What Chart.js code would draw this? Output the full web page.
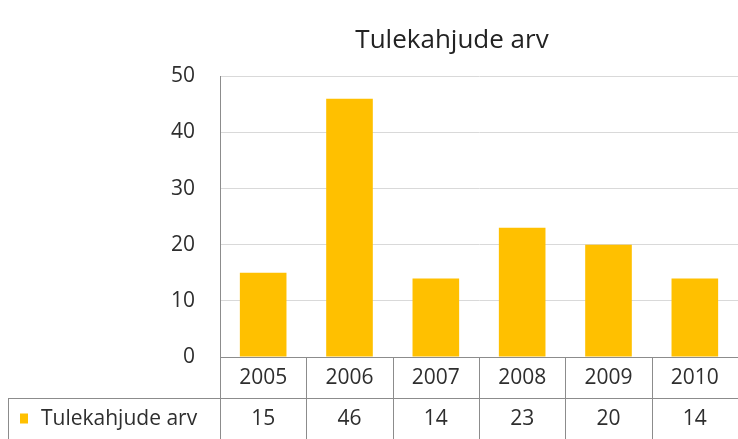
<!DOCTYPE html>
<html>
<head>
<meta charset="utf-8">
<script src="https://cdn.jsdelivr.net/npm/chart.js@4"></script>
<style>
    html, body { margin: 0; padding: 0; background: #ffffff; }
    #wrap { width: 738px; height: 439px; }
</style>
</head>
<body>
<div id="wrap"><canvas id="fireChart" width="738" height="439"></canvas></div>
<script>
// Chart data
const years = ['2005', '2006', '2007', '2008', '2009', '2010'];
const fireCounts = [15, 46, 14, 23, 20, 14];
const seriesName = 'Tulekahjude arv';
const chartTitle = 'Tulekahjude arv';
const yMin = 0;
const yMax = 50;
const yStep = 10;

const barColor = '#ffc000';
const lineColor = '#8c8c8c';
const textColor = '#2e2e2e';
const fontFamily = "'Open Sans', 'DejaVu Sans', sans-serif";

// Data table under the plot (Excel style)
const dataTablePlugin = {
    id: 'dataTable',
    afterDraw(chart) {
        const ctx = chart.ctx;
        const area = chart.chartArea;
        const xScale = chart.scales.x;
        const bottom = chart.height;
        const rowTop = area.bottom;
        const rowMid = area.bottom + 41;
        const step = (area.right - area.left) / years.length;

        ctx.save();
        ctx.strokeStyle = lineColor;
        ctx.lineWidth = 1;
        ctx.beginPath();
        // horizontal lines
        ctx.moveTo(area.left, Math.round(rowTop) + 0.5);
        ctx.lineTo(area.right, Math.round(rowTop) + 0.5);
        ctx.moveTo(8, Math.round(rowMid) + 0.5);
        ctx.lineTo(area.right, Math.round(rowMid) + 0.5);
        // column lines (last one falls outside the picture)
        for (let i = 0; i < years.length; i++) {
            const x = Math.round(area.left + i * step) + 0.5;
            ctx.moveTo(x, rowTop);
            ctx.lineTo(x, bottom);
        }
        // left header cell
        ctx.moveTo(8.5, rowMid);
        ctx.lineTo(8.5, bottom);
        ctx.stroke();

        // texts
        ctx.fillStyle = textColor;
        ctx.font = '21px ' + fontFamily;
        ctx.textAlign = 'center';
        ctx.textBaseline = 'middle';
        years.forEach((year, i) => {
            const x = xScale.getPixelForValue(i);
            ctx.fillText(year, x, (rowTop + rowMid) / 2 + 1);
            ctx.fillText(String(fireCounts[i]), x, (rowMid + bottom) / 2 + 1);
        });

        // legend key + series name
        const keyY = (rowMid + bottom) / 2;
        ctx.fillStyle = barColor;
        ctx.fillRect(20, keyY - 5, 8, 10);
        ctx.fillStyle = textColor;
        ctx.textAlign = 'left';
        ctx.fillText(seriesName, 41, keyY + 1);
        ctx.restore();
    }
};

const ctx = document.getElementById('fireChart').getContext('2d');
const fireChart = new Chart(ctx, {
    type: 'bar',
    data: {
        labels: years,
        datasets: [{
            label: seriesName,
            data: fireCounts,
            backgroundColor: barColor,
            borderWidth: 0,
            categoryPercentage: 1,
            barPercentage: 0.54
        }]
    },
    options: {
        responsive: false,
        animation: false,
        layout: {
            padding: { left: 166, right: 0, top: 0, bottom: 82 }
        },
        plugins: {
            legend: { display: false },
            tooltip: { enabled: false },
            title: {
                display: true,
                text: chartTitle,
                color: '#222222',
                font: { family: fontFamily, size: 26, weight: 'normal' },
                padding: { top: 25, bottom: 20 }
            }
        },
        scales: {
            x: {
                display: false
            },
            y: {
                min: yMin,
                max: yMax,
                afterFit(scale) {
                    scale.width = 54;
                },
                ticks: {
                    stepSize: yStep,
                    padding: 25,
                    color: textColor,
                    font: { family: fontFamily, size: 21 }
                },
                grid: {
                    color: '#d9d9d9',
                    drawTicks: false
                },
                border: {
                    color: lineColor
                }
            }
        }
    },
    plugins: [dataTablePlugin]
});
</script>
</body>
</html>
